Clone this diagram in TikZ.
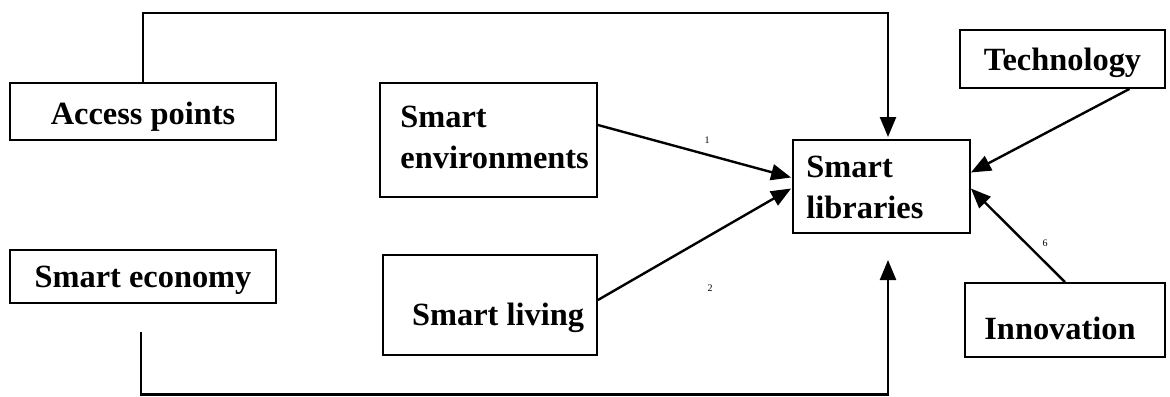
\documentclass[tikz,border=0pt]{standalone}
\usepackage{fontspec}
\setmainfont{Liberation Serif}
\usetikzlibrary{arrows.meta,calc}
\begin{document}
\begin{tikzpicture}[x=0.5pt,y=-0.5pt,
  box/.style={draw,line width=0.9pt,inner sep=0pt},
  txt/.style={font=\fontsize{16.2}{20.5}\selectfont\bfseries,inner sep=0pt,align=left},
  tiny/.style={font=\fontsize{5}{6}\selectfont,inner sep=0pt},
  arr/.style={line width=1.2pt,-{Triangle[length=10pt,width=8pt]}}]
\useasboundingbox (0,0) rectangle (1170,396);
% boxes
\node[box,minimum width=133pt,minimum height=28.5pt] (acc) at (143,111.5) {};
\node[box,minimum width=133pt,minimum height=26.5pt] (eco) at (143,276.5) {};
\node[box,minimum width=108.5pt,minimum height=57pt] (env) at (488.5,140) {};
\node[box,minimum width=107pt,minimum height=50pt] (liv) at (490,305) {};
\node[box,minimum width=88.5pt,minimum height=46.5pt] (lib) at (881.5,186.5) {};
\node[box,minimum width=102.5pt,minimum height=29pt] (tech) at (1062.5,59) {};
\node[box,minimum width=100pt,minimum height=37pt] (inn) at (1065,320) {};
% texts
\node[txt] (acct) at ($(acc.center)+(0,5)$) {Access points};
\node[txt] (ecot) at ($(eco.center)+(0,4)$) {Smart economy};
\node[txt,anchor=west] (envt) at (400,137) {Smart\\environments};
\node[txt] (livt) at (498,318) {Smart living};
\node[txt,anchor=west] (libt) at (806,187) {Smart\\libraries};
\node[txt] (techt) at ($(tech.center)+(0,4)$) {Technology};
\node[txt] (innt) at (1060,328) {Innovation};
% small labels
\node[tiny] (n1) at (707,140) {1};
\node[tiny] (n2) at (710,288) {2};
\node[tiny] (n6) at (1045,243) {6};
% connectors
\coordinate (topA) at (888,13);
\coordinate (ecoS) at (141,332);
\coordinate (botA) at (888,394.5);
\coordinate (libB) at (888,260);
\draw[arr] (acc.north) |- (topA) -- (topA |- 0,137);
\draw[arr] (ecoS) |- (botA) -- (libB);
\draw[arr] ($(env.east)+(0,-15)$) -- ($(lib.west)+(-1,-9)$);
\draw[arr] ($(liv.east)+(0,-5)$) -- ($(lib.west)+(-1,2)$);
\draw[arr] ($(tech.south)+(67,0)$) -- ($(lib.east)+(0,-14)$);
\draw[arr] (inn.north) -- ($(lib.east)+(0,2)$);
\end{tikzpicture}
\end{document}
